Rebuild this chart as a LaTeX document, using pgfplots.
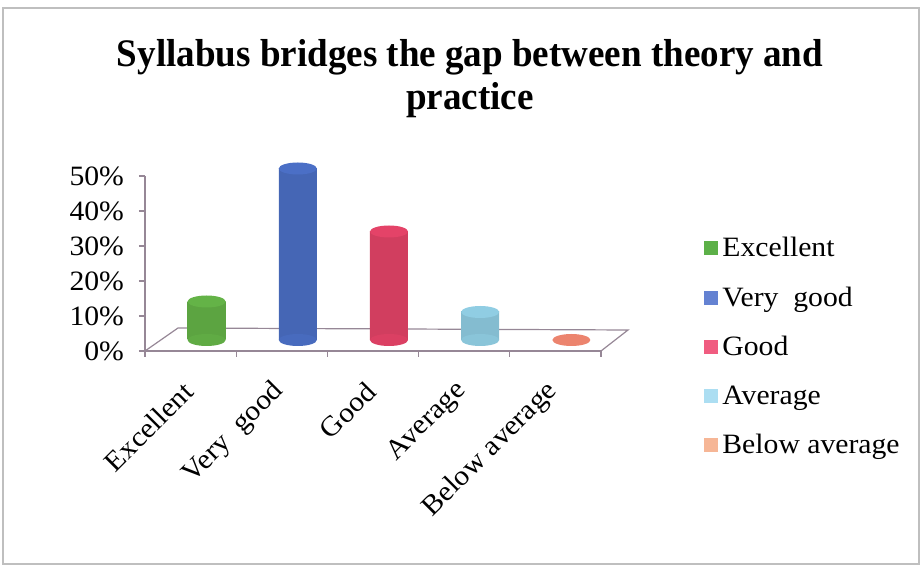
\documentclass[border=0pt]{standalone}
\usepackage{fontspec}
\setmainfont{Liberation Serif}
\newfontfamily\labfont[FakeStretch=1.06]{Liberation Serif}
\newfontfamily\titlefont[FakeStretch=0.95]{Liberation Serif}
\usepackage{pgfplots}
\pgfplotsset{compat=1.18}
\definecolor{cExc}{RGB}{104,186,74}
\definecolor{cVg}{RGB}{78,116,206}
\definecolor{cGood}{RGB}{238,70,108}
\definecolor{cAvg}{RGB}{150,214,236}
\definecolor{cBel}{RGB}{236,132,110}
\definecolor{lExc}{RGB}{92,176,72}
\definecolor{lVg}{RGB}{100,130,210}
\definecolor{lGood}{RGB}{240,92,128}
\definecolor{lAvg}{RGB}{172,222,242}
\definecolor{lBel}{RGB}{246,182,150}
\definecolor{axgray}{RGB}{150,135,150}
\pgfdeclareplotmark{cylcap}{\pgfpathellipse{\pgfpointorigin}{\pgfqpoint{9.5pt}{0pt}}{\pgfqpoint{0pt}{3pt}}\pgfusepathqfill}
\begin{document}
\begin{tikzpicture}
\useasboundingbox (-72.5pt,-108pt) rectangle (388.5pt,175.5pt);
\draw[gray!50, line width=0.8pt] (-71pt,-106.5pt) rectangle (387pt,171.5pt);
\node[font=\titlefont\bfseries\fontsize{19.5}{23}\selectfont, anchor=base] at (162.5pt,142pt) {Syllabus bridges the gap between theory and};
\node[font=\titlefont\bfseries\fontsize{19.5}{23}\selectfont, anchor=base] at (162.5pt,120.5pt) {practice};
\begin{axis}[
  at={(0pt,0pt)}, anchor=south west,
  scale only axis, width=228pt, height=87.5pt,
  xmin=-0.5, xmax=4.5, ymin=0, ymax=50,
  axis lines*=left,
  axis line style={draw=axgray, line width=0.6pt},
  ytick={0,10,20,30,40,50},
  yticklabels={0\%,10\%,20\%,30\%,40\%,50\%},
  xtick={-0.5,0.5,1.5,2.5,3.5,4.5},
  x tick label as interval,
  xticklabels={Excellent,Very\ \ good,Good,Average,Below average},
  tick align=outside, major tick length=3pt,
  tick style={draw=axgray, line width=0.6pt},
  tick label style={font=\labfont\fontsize{14}{16}\selectfont, text=black},
  xticklabel style={rotate=45, anchor=east, xshift=2pt},
  xticklabel shift=14pt,
  yticklabel shift=4pt,
  legend style={at={(1.226,0.675)}, anchor=north west, draw=none, fill=none,
    font=\labfont\fontsize{14}{16}\selectfont, row sep=9.5pt, inner sep=0pt},
  legend cell align=left,
  legend image code/.code={\fill[#1] (0pt,-3.5pt) rectangle (7pt,3.5pt);},
]
\addlegendimage{fill=lExc, draw=none}\addlegendentry{Excellent}
\addlegendimage{fill=lVg, draw=none}\addlegendentry{Very\ \ good}
\addlegendimage{fill=lGood, draw=none}\addlegendentry{Good}
\addlegendimage{fill=lAvg, draw=none}\addlegendentry{Average}
\addlegendimage{fill=lBel, draw=none}\addlegendentry{Below average}
\end{axis}
\draw[axgray, line width=0.6pt] (0pt,0pt) -- (16.5pt,11.5pt) -- (241.5pt,10.5pt) -- (228pt,0pt);
\begin{axis}[
  at={(8pt,5.5pt)}, anchor=south west,
  scale only axis, width=228pt, height=87.5pt,
  xmin=-0.5, xmax=4.5, ymin=0, ymax=50,
  axis lines=none, clip=false,
]
% bottom caps
\addplot[only marks, mark=cylcap, mark options={fill=cExc!92!black}] coordinates {(0,0)};
\addplot[only marks, mark=cylcap, mark options={fill=cVg!92!black}] coordinates {(1,0)};
\addplot[only marks, mark=cylcap, mark options={fill=cGood!92!black}] coordinates {(2,0)};
\addplot[only marks, mark=cylcap, mark options={fill=cAvg!92!black}] coordinates {(3,0)};
% bars
\addplot[ybar, bar width=19pt, bar shift=0pt, draw=none, left color=cExc!88!black, middle color=cExc!92!white, right color=cExc!88!black] coordinates {(0,11)};
\addplot[ybar, bar width=19pt, bar shift=0pt, draw=none, left color=cVg!88!black, middle color=cVg!92!white, right color=cVg!88!black] coordinates {(1,49)};
\addplot[ybar, bar width=19pt, bar shift=0pt, draw=none, left color=cGood!88!black, middle color=cGood!92!white, right color=cGood!88!black] coordinates {(2,31)};
\addplot[ybar, bar width=19pt, bar shift=0pt, draw=none, left color=cAvg!88!black, middle color=cAvg!92!white, right color=cAvg!88!black] coordinates {(3,8)};
% top caps
\addplot[only marks, mark=cylcap, mark options={fill=cExc!96!black}] coordinates {(0,11)};
\addplot[only marks, mark=cylcap, mark options={fill=cVg!96!black}] coordinates {(1,49)};
\addplot[only marks, mark=cylcap, mark options={fill=cGood!96!black}] coordinates {(2,31)};
\addplot[only marks, mark=cylcap, mark options={fill=cAvg!96!black}] coordinates {(3,8)};
\addplot[only marks, mark=cylcap, mark options={fill=cBel}] coordinates {(4,0)};
\end{axis}
\end{tikzpicture}
\end{document}
